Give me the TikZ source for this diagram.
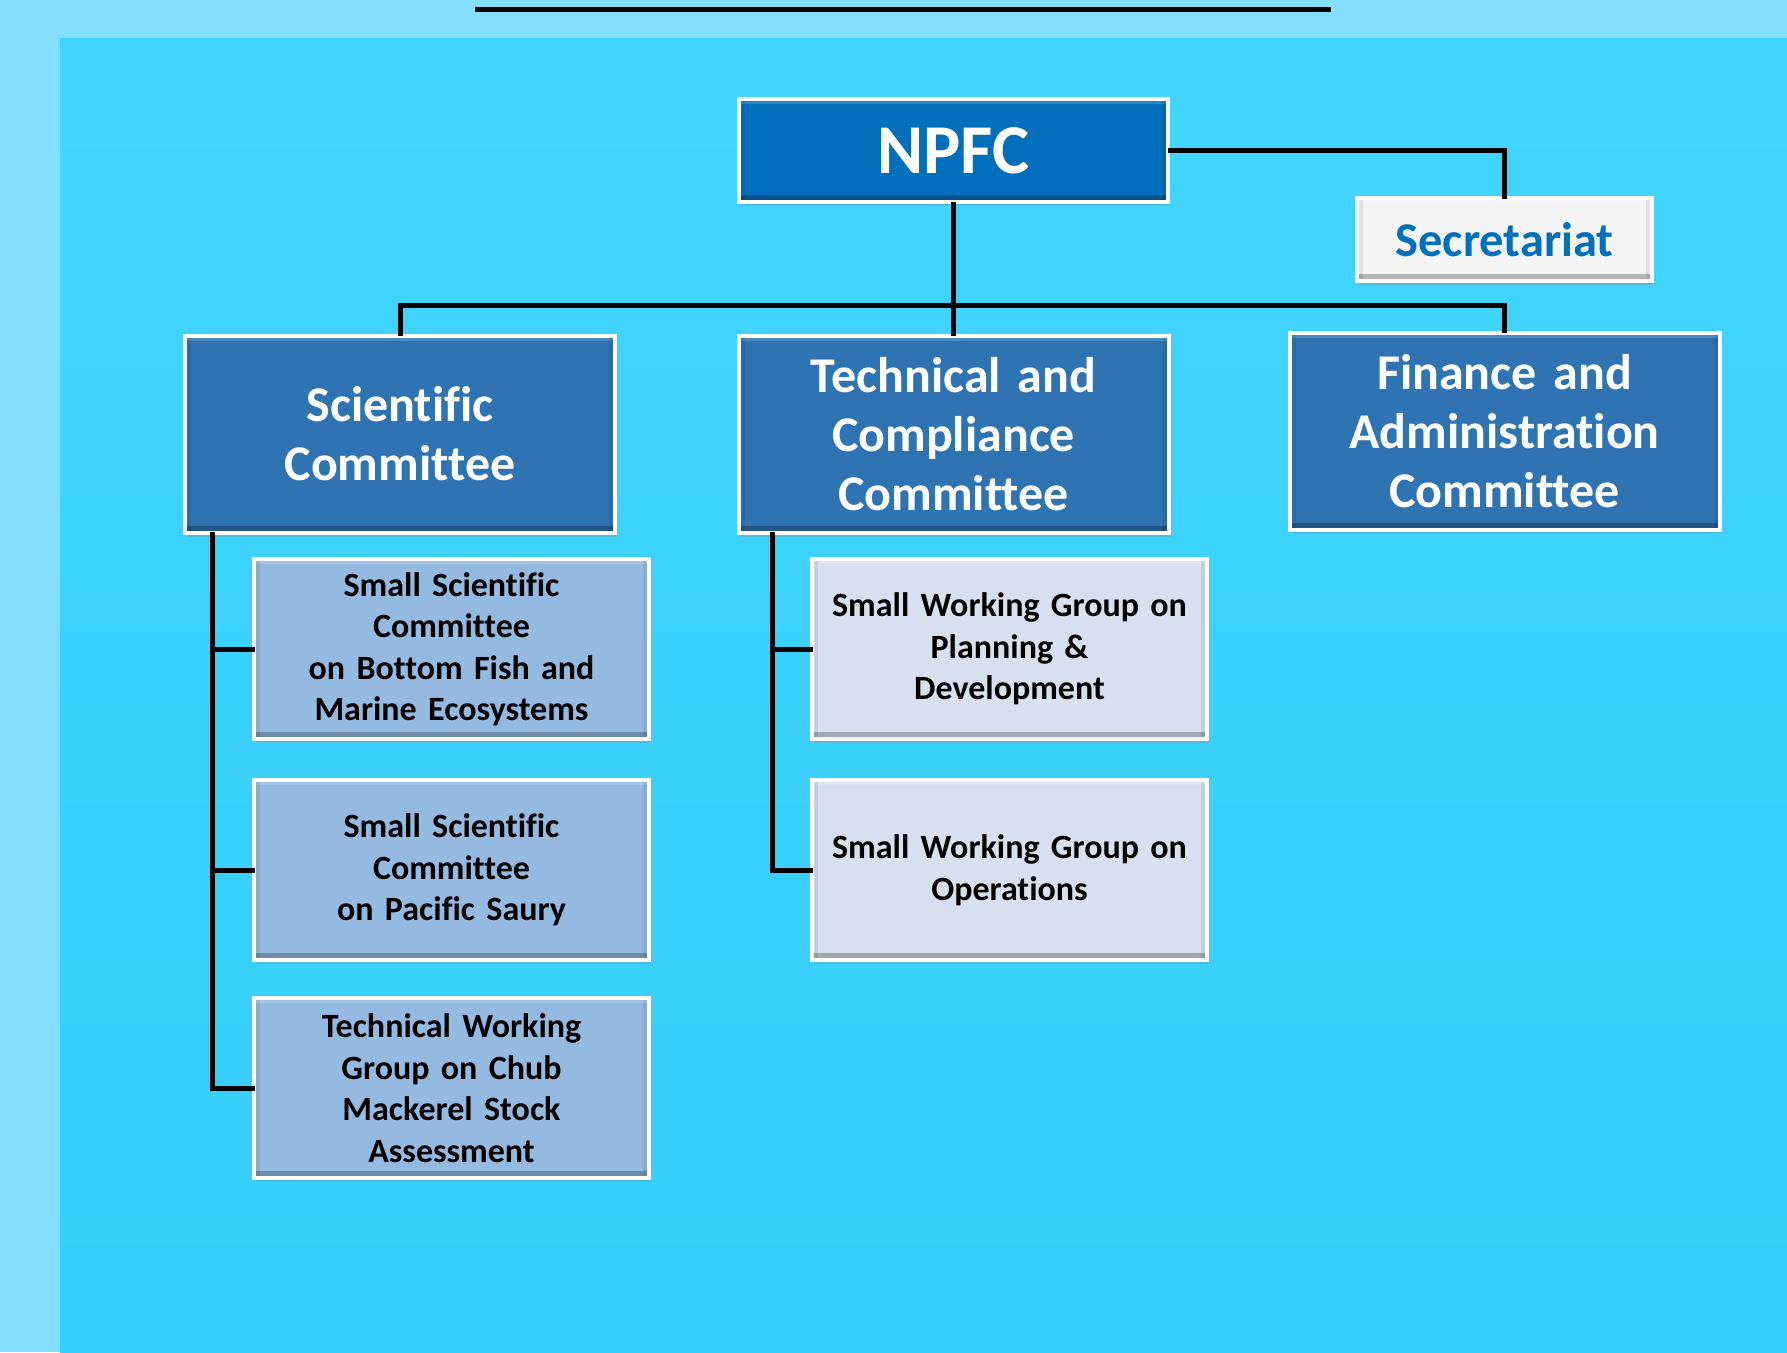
\documentclass[tikz,border=0pt]{standalone}
\usepackage{fontspec}
\setmainfont{Carlito}[Ligatures=NoCommon]
\usepackage{xcolor}
\usetikzlibrary{shadows}

\definecolor{bgouter}{HTML}{84DFFF}
\definecolor{bgtop}{HTML}{41D4FE}
\definecolor{bgbottom}{HTML}{37CEF9}
\definecolor{npfcblue}{HTML}{006FBC}
\definecolor{comblue}{HTML}{2F74B2}
\definecolor{subblue}{HTML}{95BADF}
\definecolor{subgrey}{HTML}{D6E1ED}
\definecolor{secwhite}{HTML}{F4F4F4}

\newcommand{\tightwords}{\fontdimen2\font=.22em\relax}

\tikzset{
	box/.style={draw=white, line width=4pt, inner sep=0pt, align=center,
		drop shadow={opacity=.25, shadow xshift=2pt, shadow yshift=-4pt},
		path picture={
			\fill[black,opacity=.25] (path picture bounding box.south west) rectangle ([yshift=7pt]path picture bounding box.south east);
			\fill[white,opacity=.15] (path picture bounding box.north west) rectangle ([yshift=-5pt]path picture bounding box.north east);
			\fill[black,opacity=.08] (path picture bounding box.south west) rectangle ([xshift=6pt]path picture bounding box.north west);
			\fill[black,opacity=.08] (path picture bounding box.south east) rectangle ([xshift=-6pt]path picture bounding box.north east);
		}},
	topbox/.style={box, fill=npfcblue, text=white, minimum width=429pt, minimum height=103pt,
		font=\bfseries\fontsize{70}{70}\selectfont},
	secbox/.style={box, fill=secwhite, text=npfcblue, minimum width=295pt, minimum height=83pt,
		font=\bfseries\fontsize{48.5}{48.5}\selectfont},
	combox/.style={box, fill=comblue, text=white, minimum width=430pt, minimum height=197pt,
		text width=420pt, font=\bfseries\fontsize{50}{59}\selectfont\tightwords},
	subbox/.style={box, fill=subblue, text=black, minimum width=395pt, minimum height=180pt,
		text width=385pt, font=\bfseries\fontsize{34}{41.5}\selectfont\tightwords},
	wgbox/.style={subbox, fill=subgrey},
	link/.style={line width=5pt, line cap=rect}
}

\begin{document}
\begin{tikzpicture}[x=1pt, y=-1pt]
	\useasboundingbox (0,0) rectangle (1787,1352);
	\fill[bgouter] (0,0) rectangle (1787,1352);
	\shade[top color=bgtop, bottom color=bgbottom] (60,38) rectangle (1787,1352);
	\draw[line width=5pt] (475,9) -- (1331,9);

	\node[topbox] (npfc) at (953.5,150.5) {NPFC};
	\node[secbox] (sec) at (1504.5,239.5) {Secretariat};

	\node[combox] (sci) at (400,434) {Scientific\\Committee};
	\node[combox] (tcc) at (953.5,434) {Technical and\\Compliance\\Committee};
	\node[combox] (fac) at (1504.5,431) {Finance and\\Administration\\Committee};

	\node[subbox] (sscbf) at (451.5,649) {Small Scientific\\Committee\\on Bottom Fish and\\Marine Ecosystems};
	\node[subbox] (sscps) at (451.5,870) {Small Scientific\\Committee\\on Pacific Saury};
	\node[subbox] (twgcm) at (451.5,1088) {Technical Working\\Group on Chub\\Mackerel Stock\\Assessment};

	\node[wgbox] (swgpd) at (1009.5,649) {Small Working Group on\\Planning \&\\Development};
	\node[wgbox] (swgop) at (1009.5,870) {Small Working Group on\\Operations};

	\coordinate (bus) at (0,305);
	\coordinate (scispine) at (212,0);
	\coordinate (tccspine) at (772,0);

	\draw[link] (npfc.east) -| (sec.north);
	\draw[link] (npfc.south) -- (tcc.north);
	\draw[link] (sci.north) -- (sci.north |- bus) -| (fac.north);

	\draw[link] (scispine |- sci.south) |- (twgcm.west);
	\foreach \n in {sscbf,sscps}
		\draw[link] (scispine |- \n.west) -- (\n.west);

	\draw[link] (tccspine |- tcc.south) |- (swgop.west);
	\draw[link] (tccspine |- swgpd.west) -- (swgpd.west);
\end{tikzpicture}
\end{document}
